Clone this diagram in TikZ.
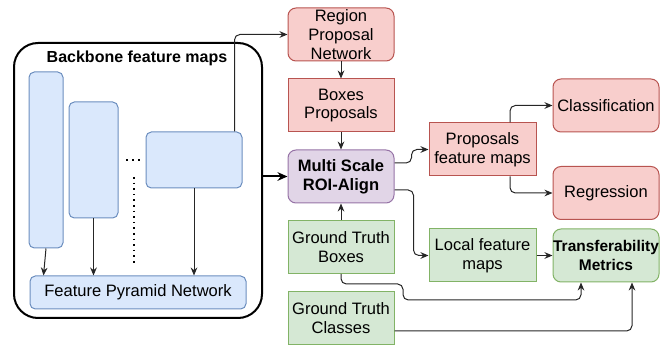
\documentclass[tikz,border=0pt]{standalone}
\usepackage{fontspec}
\setmainfont{Liberation Sans}
\usetikzlibrary{arrows.meta}
\usetikzlibrary{calc}

\definecolor{redfill}{HTML}{F8CECC}
\definecolor{redline}{HTML}{B85450}
\definecolor{bluefill}{HTML}{DAE8FC}
\definecolor{blueline}{HTML}{6C8EBF}
\definecolor{greenfill}{HTML}{D5E8D4}
\definecolor{greenline}{HTML}{82B366}
\definecolor{purplefill}{HTML}{E1D5E7}
\definecolor{purpleline}{HTML}{9673A6}

\begin{document}
\begin{tikzpicture}[x=0.75pt, y=-0.75pt, font=\fontsize{12.4}{14}\selectfont,
        box_style/.style={draw, line width=0.75pt, minimum width=79.5pt, minimum height=39.75pt, align=center, inner sep=1pt},
        red_style/.style={box_style, draw=redline, fill=redfill},
        green_style/.style={box_style, draw=greenline, fill=greenfill},
        purple_style/.style={box_style, draw=purpleline, fill=purplefill},
        round_style/.style={rounded corners=6pt},
        map_style/.style={draw=blueline, fill=bluefill, line width=0.75pt, rounded corners=4pt, inner sep=0pt},
        edge_style/.style={draw=black!85, line width=0.75pt, rounded corners=4pt, -{Stealth[length=6pt,width=5pt]}},
        big_edge_style/.style={draw=black, line width=1.5pt, -{Stealth[length=7.5pt,width=6.5pt]}}]

        \useasboundingbox (0,0) rectangle (668,345);

        % backbone block
        \node [draw, line width=1.5pt, rounded corners=18pt, minimum width=186pt, minimum height=206.25pt](backbone) at (138,180.5) {};
        \node [font=\fontsize{12}{14}\selectfont\bfseries](title) at (137,58) {Backbone feature maps};

        \node [map_style, minimum width=25.5pt, minimum height=132pt](map1) at (46,160) {};
        \node [map_style, minimum width=36.75pt, minimum height=87pt](map2) at (93.5,160) {};
        \node [map_style, minimum width=72pt, minimum height=42pt](map3) at (194,160) {};
        \node [map_style, minimum width=162pt, minimum height=24.75pt](fpn) at (138,292.5) {Feature Pyramid Network};

        \draw [line width=1.2pt, dash pattern=on 1.2pt off 3.3pt] (126,160) -- (142,160);
        \draw [line width=1.2pt, dash pattern=on 1.2pt off 3pt] (134,177) -- (134,263);

        % middle column
        \node [red_style, round_style](rpn) at (341,34.5) {Region\\Proposal\\Network};
        \node [red_style](props) at (341,105.5) {Boxes\\Proposals};
        \node [purple_style, round_style, font=\fontsize{12.4}{14}\selectfont\bfseries](roi) at (341,176.5) {Multi Scale\\ROI-Align};
        \node [green_style](gtboxes) at (341,247) {Ground Truth\\Boxes};
        \node [green_style](gtclasses) at (341,318) {Ground Truth\\Classes};

        % right part
        \node [red_style, minimum width=80.25pt](pfm) at (482.5,149.5) {Proposals\\feature maps};
        \node [green_style, minimum width=80.25pt](localfm) at (482.5,255.5) {Local feature\\maps};
        \node [red_style, round_style](cls) at (606,105.5) {Classification};
        \node [red_style, round_style](reg) at (606,193) {Regression};
        \node [green_style, round_style, inner sep=0pt, font=\fontsize{11.6}{14}\selectfont\bfseries](tm) at (606,255.5) {Transferability\\Metrics};

        \draw [edge_style] (map1.south) -- ($(fpn.north west)+(14,0)$);
        \draw [edge_style] (map2.south) -- (map2.south |- fpn.north);
        \draw [edge_style] (map3.south) -- (map3.south |- fpn.north);
        \draw [edge_style] ($(map3.north east)+(-8,0)$) |- (rpn.west);

        \draw [big_edge_style] (backbone.east |- roi.west) -- (roi.west);

        \draw [edge_style] (rpn) -- (props);
        \draw [edge_style] (props) -- (roi);
        \draw [edge_style] (gtboxes) -- (roi);

        \draw [edge_style] ($(roi.east)+(0,-13.5)$) -- ++(17,0) |- (pfm.west);
        \draw [edge_style] ($(roi.east)+(0,13.5)$) -- ++(19,0) |- (localfm.west);
        \draw [edge_style] ($(pfm.north)+(27.5,0)$) |- (cls.west);
        \draw [edge_style] ($(pfm.south)+(27.5,0)$) |- (reg.west);
        \draw [edge_style] (localfm) -- (tm);

        \draw [edge_style] (gtboxes.south) -- ++(0,10) -| ++(62,16) -| ($(tm.south)+(-25,0)$);
        \draw [edge_style] ($(gtclasses.east)+(0,13)$) -| ($(tm.south)+(26,0)$);

        \end{tikzpicture}
\end{document}
